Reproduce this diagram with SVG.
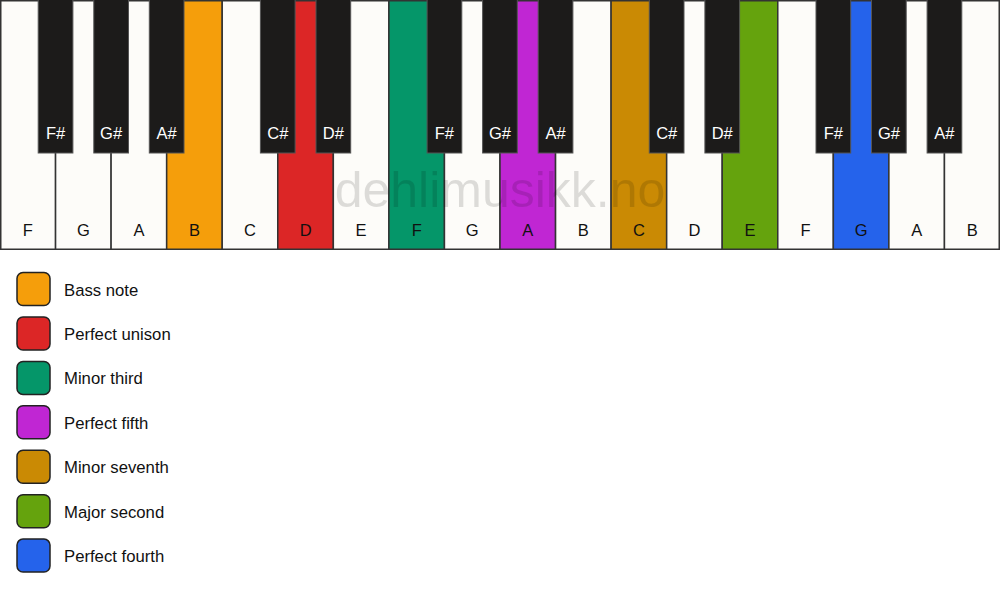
<svg xmlns="http://www.w3.org/2000/svg" width="1000" height="594" viewBox="0 0 1000 594">
<style>
.w{stroke:#333;stroke-width:1.5}
.b{fill:#1c1b1a;stroke:#555;stroke-width:1}
.wl{font-family:"Liberation Sans",Arial,sans-serif;font-size:16.5px;fill:#111;text-anchor:middle}
.bl{font-family:"Liberation Sans",Arial,sans-serif;font-size:16.5px;fill:#fff;text-anchor:middle}
.lg{stroke:#222;stroke-width:1.5}
.lt{font-family:"Liberation Sans",Arial,sans-serif;font-size:16.7px;fill:#111}
.wm{font-family:"Liberation Sans",Arial,sans-serif;font-size:50px;fill:#000;fill-opacity:0.13;text-anchor:middle}
</style>
<rect width="1000" height="594" fill="#ffffff"/>
<g id="white-keys">
<g id="wk-F1"><rect class="w" x="0.75" y="0.75" width="54.8" height="248.5" fill="#fdfcf9"/><text class="wl" x="27.8" y="236">F</text></g>
<g id="wk-G1"><rect class="w" x="55.56" y="0.75" width="55.56" height="248.5" fill="#fdfcf9"/><text class="wl" x="83.3" y="236">G</text></g>
<g id="wk-A1"><rect class="w" x="111.11" y="0.75" width="55.56" height="248.5" fill="#fdfcf9"/><text class="wl" x="138.9" y="236">A</text></g>
<g id="wk-B1"><rect class="w" x="166.67" y="0.75" width="55.56" height="248.5" fill="#f59e0b"/><text class="wl" x="194.4" y="236">B</text></g>
<g id="wk-C1"><rect class="w" x="222.22" y="0.75" width="55.56" height="248.5" fill="#fdfcf9"/><text class="wl" x="250" y="236">C</text></g>
<g id="wk-D1"><rect class="w" x="277.78" y="0.75" width="55.56" height="248.5" fill="#dc2626"/><text class="wl" x="305.6" y="236">D</text></g>
<g id="wk-E1"><rect class="w" x="333.33" y="0.75" width="55.56" height="248.5" fill="#fdfcf9"/><text class="wl" x="361.1" y="236">E</text></g>
<g id="wk-F2"><rect class="w" x="388.89" y="0.75" width="55.56" height="248.5" fill="#059669"/><text class="wl" x="416.7" y="236">F</text></g>
<g id="wk-G2"><rect class="w" x="444.44" y="0.75" width="55.56" height="248.5" fill="#fdfcf9"/><text class="wl" x="472.2" y="236">G</text></g>
<g id="wk-A2"><rect class="w" x="500" y="0.75" width="55.56" height="248.5" fill="#c026d3"/><text class="wl" x="527.8" y="236">A</text></g>
<g id="wk-B2"><rect class="w" x="555.56" y="0.75" width="55.56" height="248.5" fill="#fdfcf9"/><text class="wl" x="583.3" y="236">B</text></g>
<g id="wk-C2"><rect class="w" x="611.11" y="0.75" width="55.56" height="248.5" fill="#ca8a04"/><text class="wl" x="638.9" y="236">C</text></g>
<g id="wk-D2"><rect class="w" x="666.67" y="0.75" width="55.56" height="248.5" fill="#fdfcf9"/><text class="wl" x="694.4" y="236">D</text></g>
<g id="wk-E2"><rect class="w" x="722.22" y="0.75" width="55.56" height="248.5" fill="#65a30d"/><text class="wl" x="750" y="236">E</text></g>
<g id="wk-F3"><rect class="w" x="777.78" y="0.75" width="55.56" height="248.5" fill="#fdfcf9"/><text class="wl" x="805.6" y="236">F</text></g>
<g id="wk-G3"><rect class="w" x="833.33" y="0.75" width="55.56" height="248.5" fill="#2563eb"/><text class="wl" x="861.1" y="236">G</text></g>
<g id="wk-A3"><rect class="w" x="888.89" y="0.75" width="55.56" height="248.5" fill="#fdfcf9"/><text class="wl" x="916.7" y="236">A</text></g>
<g id="wk-B3"><rect class="w" x="944.44" y="0.75" width="54.8" height="248.5" fill="#fdfcf9"/><text class="wl" x="972.2" y="236">B</text></g>
</g>
<text class="wm" x="500" y="207">dehlimusikk.no</text>
<g id="black-keys">
<g id="bk-Fs1"><rect class="b" x="38.2" y="-1" width="34.7" height="154"/><text class="bl" x="55.6" y="139">F#</text></g>
<g id="bk-Gs1"><rect class="b" x="93.8" y="-1" width="34.7" height="154"/><text class="bl" x="111.1" y="139">G#</text></g>
<g id="bk-As1"><rect class="b" x="149.3" y="-1" width="34.7" height="154"/><text class="bl" x="166.7" y="139">A#</text></g>
<g id="bk-Cs1"><rect class="b" x="260.4" y="-1" width="34.7" height="154"/><text class="bl" x="277.8" y="139">C#</text></g>
<g id="bk-Ds1"><rect class="b" x="316" y="-1" width="34.7" height="154"/><text class="bl" x="333.3" y="139">D#</text></g>
<g id="bk-Fs2"><rect class="b" x="427.1" y="-1" width="34.7" height="154"/><text class="bl" x="444.4" y="139">F#</text></g>
<g id="bk-Gs2"><rect class="b" x="482.6" y="-1" width="34.7" height="154"/><text class="bl" x="500" y="139">G#</text></g>
<g id="bk-As2"><rect class="b" x="538.2" y="-1" width="34.7" height="154"/><text class="bl" x="555.6" y="139">A#</text></g>
<g id="bk-Cs2"><rect class="b" x="649.3" y="-1" width="34.7" height="154"/><text class="bl" x="666.7" y="139">C#</text></g>
<g id="bk-Ds2"><rect class="b" x="704.9" y="-1" width="34.7" height="154"/><text class="bl" x="722.2" y="139">D#</text></g>
<g id="bk-Fs3"><rect class="b" x="816" y="-1" width="34.7" height="154"/><text class="bl" x="833.3" y="139">F#</text></g>
<g id="bk-Gs3"><rect class="b" x="871.5" y="-1" width="34.7" height="154"/><text class="bl" x="888.9" y="139">G#</text></g>
<g id="bk-As3"><rect class="b" x="927.1" y="-1" width="34.7" height="154"/><text class="bl" x="944.4" y="139">A#</text></g>
</g>
<g id="legend">
<g id="lg-bass"><rect class="lg" x="17" y="272.5" width="33" height="33" rx="6" fill="#f59e0b"/><text class="lt" x="64" y="295.5">Bass note</text></g>
<g id="lg-unison"><rect class="lg" x="17" y="317" width="33" height="33" rx="6" fill="#dc2626"/><text class="lt" x="64" y="340">Perfect unison</text></g>
<g id="lg-m3"><rect class="lg" x="17" y="361.4" width="33" height="33" rx="6" fill="#059669"/><text class="lt" x="64" y="384.4">Minor third</text></g>
<g id="lg-p5"><rect class="lg" x="17" y="405.8" width="33" height="33" rx="6" fill="#c026d3"/><text class="lt" x="64" y="428.8">Perfect fifth</text></g>
<g id="lg-m7"><rect class="lg" x="17" y="450.3" width="33" height="33" rx="6" fill="#ca8a04"/><text class="lt" x="64" y="473.3">Minor seventh</text></g>
<g id="lg-M2"><rect class="lg" x="17" y="494.7" width="33" height="33" rx="6" fill="#65a30d"/><text class="lt" x="64" y="517.7">Major second</text></g>
<g id="lg-p4"><rect class="lg" x="17" y="539.1" width="33" height="33" rx="6" fill="#2563eb"/><text class="lt" x="64" y="562.1">Perfect fourth</text></g>
</g>
</svg>
